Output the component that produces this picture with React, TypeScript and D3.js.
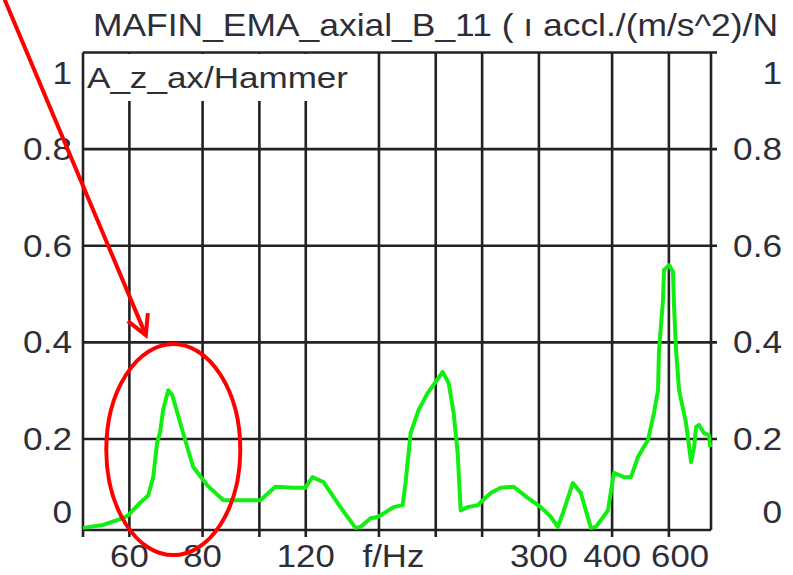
import React from "react";
import * as d3 from "d3";

// frequency (Hz) / magnitude pairs
const FREQ = [
  50, 54.1, 58.5, 59.7, 62.6, 64.6, 65.9, 66.9, 67.7, 68.5, 69.9, 71.0, 74.7, 77.1, 81.5, 86.8,
  100.4, 106.5, 114.3, 119.8, 123.2, 128.6, 137.5, 145.9, 148.8, 154.8, 159.7, 169.4, 175.6,
  177.6, 181.2, 187.0, 193.7, 199.9, 205.5, 210.4, 214.6, 218.0, 220.6, 226.7, 235.8, 248.2,
  258.2, 271.7, 287.1, 302.2, 314.4, 323.1, 330.9, 342.8, 353.8, 368.0, 375.3, 393.5, 402.9,
  419.1, 430.8, 442.8, 460.6, 471.6, 479.1, 481.0, 488.6, 490.6, 500.3, 508.2, 510.2, 514.3,
  520.4, 534.9, 545.6, 552.1, 556.4, 563.0, 574.2, 585.6, 588,
];
const MAG = [
  0.016, 0.022, 0.036, 0.042, 0.068, 0.083, 0.121, 0.192, 0.214, 0.26, 0.301, 0.291, 0.198, 0.142, 0.104, 0.073,
  0.073, 0.101, 0.099, 0.099, 0.121, 0.111, 0.059, 0.016, 0.018, 0.036, 0.039, 0.059, 0.063,
  0.109, 0.212, 0.26, 0.295, 0.318, 0.339, 0.316, 0.254, 0.171, 0.052, 0.059, 0.063, 0.088,
  0.099, 0.101, 0.078, 0.059, 0.039, 0.018, 0.052, 0.109, 0.088, 0.016, 0.018, 0.052, 0.13,
  0.121, 0.121, 0.163, 0.198, 0.254, 0.301, 0.384, 0.488, 0.55, 0.56, 0.546, 0.477, 0.384,
  0.301, 0.233, 0.152, 0.183, 0.225, 0.229, 0.212, 0.208, 0.183,
];

const GRID_X = [60, 80, 100, 120, 160, 200, 240, 300, 400, 500];
const GRID_Y = [0.2, 0.4, 0.6, 0.8];
const X_LABELS = [60, 80, 120, 300, 400, 600];
const Y_LABELS = [0, 0.2, 0.4, 0.6, 0.8, 1];

const TITLE = "MAFIN_EMA_axial_B_11 ( ı accl./(m/s^2)/N";
const CHANNEL = "A_z_ax/Hammer";

const W = 793;
const H = 575;
const left = 83, right = 711, top = 52.5, bottom = 530;

const FONT = "'Liberation Sans', Arial, sans-serif";
const INK = "#2e2e38";
const GRID = "#222";

export default function App() {
  const x = d3.scaleLog().domain([50, 590]).range([left, right]);
  const y = d3.scaleLinear().domain([0, 1]).range([535.6, top]);

  const pts: [number, number][] = FREQ.map((f, i) => [f, MAG[i]]);
  const line = d3.line<[number, number]>()
    .x(d => x(d[0]))
    .y(d => Math.min(y(d[1]), bottom - 1.5));

  const yLabelPos = (v: number) => Math.max(top + 20.5, Math.min(bottom - 18, y(v)));

  // annotation: arrow + ellipse around the first peak
  const tipX = x(64), tipY = y(0.415);
  const cx = x(71.3), cy = y(0.178);

  return (
    <svg width={W} height={H} style={{ position: "absolute", left: 0, top: 0, background: "#fff" }}>
      {/* vertical grid */}
      {GRID_X.map(f => (
        <line key={"gx" + f} x1={x(f)} x2={x(f)} y1={top} y2={bottom + 7} stroke={GRID} strokeWidth={2.6} />
      ))}
      {/* horizontal grid */}
      {GRID_Y.map(v => (
        <line key={"gy" + v} x1={left} x2={717} y1={y(v)} y2={y(v)} stroke={GRID} strokeWidth={2.6} />
      ))}

      {/* channel label box hides the grid behind it */}
      <rect x={left + 1.5} y={top + 1.5} width={272} height={47} fill="#fff" />
      <text x={87} y={88} fontFamily={FONT} fontSize={29} fill={INK} textLength={261} lengthAdjust="spacingAndGlyphs">
        {CHANNEL}
      </text>

      {/* frame */}
      <line x1={left} x2={717} y1={top} y2={top} stroke={GRID} strokeWidth={2.6} />
      <line x1={left} x2={right} y1={bottom} y2={bottom} stroke={GRID} strokeWidth={2.6} />
      <line x1={left} x2={left} y1={top} y2={bottom + 7} stroke={GRID} strokeWidth={2.6} />
      <line x1={right} x2={right} y1={top} y2={bottom} stroke={GRID} strokeWidth={2.6} />

      {/* trace */}
      <path d={line(pts) || ""} fill="none" stroke="#12ee12" strokeWidth={4} strokeLinejoin="round" />

      {/* y labels, both sides */}
      {Y_LABELS.map(v => (
        <g key={"yl" + v}>
          <g transform={`translate(72,${yLabelPos(v) + 11}) scale(1.1,1)`}>
            <text textAnchor="end" fontFamily={FONT} fontSize={32} fill={INK}>{d3.format("~g")(v)}</text>
          </g>
          <g transform={`translate(782,${yLabelPos(v) + 11}) scale(1.1,1)`}>
            <text textAnchor="end" fontFamily={FONT} fontSize={32} fill={INK}>{d3.format("~g")(v)}</text>
          </g>
        </g>
      ))}

      {/* x labels */}
      {X_LABELS.map(f => {
        const clamp = x(f) > right - 25;
        return (
          <g key={"xl" + f} transform={`translate(${clamp ? right - 2 : x(f)},567) scale(1.12,1)`}>
            <text textAnchor={clamp ? "end" : "middle"} fontFamily={FONT} fontSize={31} fill={INK}>{f}</text>
          </g>
        );
      })}
      <g transform={`translate(${x(150)},567) scale(1.12,1)`}>
        <text fontFamily={FONT} fontSize={31} fill={INK}>f/Hz</text>
      </g>

      {/* title */}
      <text x={93} y={36} fontFamily={FONT} fontSize={32} fill={INK} textLength={685} lengthAdjust="spacingAndGlyphs">
        {TITLE}
      </text>

      {/* red annotation */}
      <ellipse cx={cx} cy={cy} rx={67} ry={105.5} fill="none" stroke="#f00" strokeWidth={4} />
      <line x1={4} x2={tipX} y1={-2} y2={tipY} stroke="#f00" strokeWidth={4} />
      <polyline points={`${tipX - 18},${tipY - 14} ${tipX},${tipY} ${tipX + 2},${tipY - 22}`} fill="none" stroke="#f00" strokeWidth={4} />
    </svg>
  );
}
